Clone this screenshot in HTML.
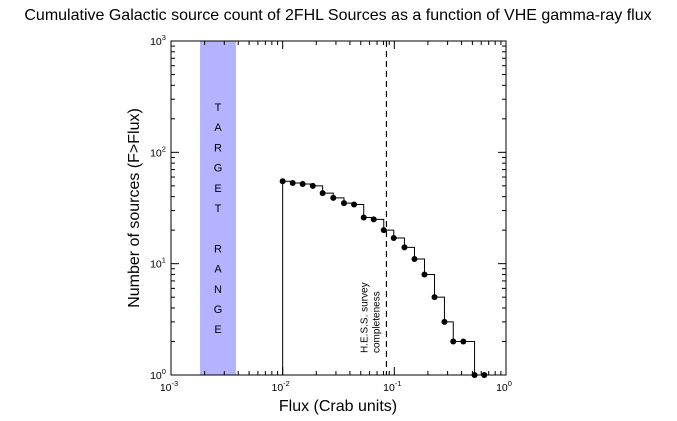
<!DOCTYPE html>
<html><head><meta charset="utf-8"><style>
body{margin:0;background:#fff;}
svg{display:block;font-family:"Liberation Sans","DejaVu Sans",sans-serif;}
</style></head><body>
<svg id="chart" width="677" height="421" xmlns="http://www.w3.org/2000/svg">
<rect width="677" height="421" fill="#fff"/>
<text x="338" y="20" font-size="16" text-anchor="middle">Cumulative Galactic source count of 2FHL Sources as a function of VHE gamma-ray flux</text>
<g id="plot"></g>
<text x="338" y="411" font-size="16" text-anchor="middle">Flux (Crab units)</text>
<text transform="translate(139,208) rotate(-90)" font-size="16" text-anchor="middle">Number of sources (F&gt;Flux)</text>
</svg>
<script>
const fluxValues=[0.0100,0.0123,0.0151,0.0186,0.0228,0.0284,0.0354,0.0436,0.0532,0.0654,0.0804,0.0988,0.1232,0.1515,0.1862,0.2290,0.2811,0.3370,0.4151,0.5230,0.6390];
const countValues=[55,53,52,50,43,39,35,34,26,25,20,17,14,11,8,5,3,2,2,1,1];
const xTickExps=[-3,-2,-1,0];
const yTickExps=[0,1,2,3];
const targetRange=[0.00182,0.00382];
const completeness=0.085;
const L=171,R=506,T=41,B=375;
const NS='http://www.w3.org/2000/svg';
const g=document.getElementById('plot');
function xs(v){return L+(Math.log10(v)+3)/3*(R-L);}
function ys(v){return B-Math.log10(v)/3*(B-T);}
function el(tag,attrs,parent){const e=document.createElementNS(NS,tag);for(const k in attrs)e.setAttribute(k,attrs[k]);(parent||g).appendChild(e);return e;}
let band=el('rect',{x:xs(targetRange[0]),y:T,width:xs(targetRange[1])-xs(targetRange[0]),height:B-T,fill:'#b3b3ff'});


const letters=['T','A','R','G','E','T','','R','A','N','G','E'];
const bx=(xs(targetRange[0])+xs(targetRange[1]))/2;
letters.forEach((c,i)=>{if(!c)return;const t=el('text',{x:bx,y:111+i*20.2,'font-size':11,'text-anchor':'middle'});t.textContent=c;

});
let dl=el('line',{x1:xs(completeness),x2:xs(completeness),y1:T,y2:B,stroke:'#000','stroke-width':1.2,'stroke-dasharray':'6,4'});


let ct=el('text',{transform:`translate(${xs(completeness)-19},353) rotate(-90)`,'font-size':10});


const t1=el('tspan',{x:0,dy:0},ct);t1.textContent='H.E.S.S. survey';
const t2=el('tspan',{x:0,dy:12},ct);t2.textContent='completeness';
let d=`M${xs(fluxValues[0])},${B} L${xs(fluxValues[0])},${ys(countValues[0])}`;
for(let i=1;i<fluxValues.length;i++){d+=` L${xs(fluxValues[i])},${ys(countValues[i-1])} L${xs(fluxValues[i])},${ys(countValues[i])}`;}
let sl=el('path',{d:d,fill:'none',stroke:'#000','stroke-width':1});


fluxValues.forEach((f,i)=>{const c=el('circle',{cx:xs(f),cy:ys(countValues[i]),r:3,fill:'#000'});

});
let fr=el('rect',{x:L,y:T,width:R-L,height:B-T,fill:'none',stroke:'#000','stroke-width':1});


for(let e=-3;e<0;e++){for(let m=1;m<10;m++){const x=xs(m*Math.pow(10,e));const len=m==1?8:4;
el('line',{x1:x,x2:x,y1:B,y2:B-len,stroke:'#000'});el('line',{x1:x,x2:x,y1:T,y2:T+len,stroke:'#000'});}}
for(let e=0;e<3;e++){for(let m=1;m<10;m++){const y=ys(m*Math.pow(10,e));const len=m==1?8:4;
el('line',{x1:L,x2:L+len,y1:y,y2:y,stroke:'#000'});el('line',{x1:R,x2:R-len,y1:y,y2:y,stroke:'#000'});}}
xTickExps.forEach(e=>{const t=el('text',{x:xs(Math.pow(10,e))-2,y:B+16,'font-size':10.5,'text-anchor':'middle'});


t.appendChild(document.createTextNode('10'));const s=el('tspan',{dy:-5,'font-size':7.5},t);s.textContent=String(e);});
yTickExps.forEach(e=>{const t=el('text',{x:L-13,y:ys(Math.pow(10,e))+4,'font-size':10.5,'text-anchor':'middle'});


t.appendChild(document.createTextNode('10'));const s=el('tspan',{dy:-5,'font-size':7.5},t);s.textContent=String(e);});
</script>
</body></html>
